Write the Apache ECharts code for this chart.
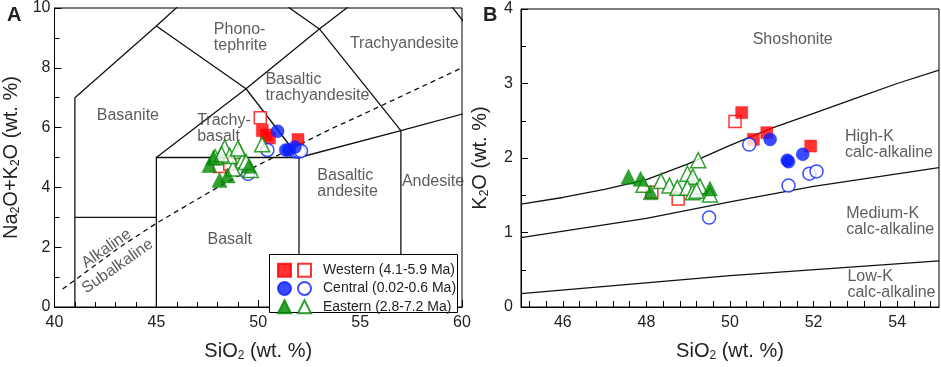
<!DOCTYPE html>
<html>
<head>
<meta charset="utf-8">
<script src="https://cdn.jsdelivr.net/npm/echarts@6/dist/echarts.min.js"></script>
<style>
  html, body { margin: 0; padding: 0; background: #fff; }
  #chart { width: 941px; height: 367px; }
</style>
</head>
<body>
<div id="chart"></div>
<script>
// ---- panel A: TAS diagram ----
const westFilledA = [[50.2, 5.9], [50.4, 5.75], [50.55, 5.65], [51.95, 5.6]]
const westOpenA = [[50.1, 6.33], [48.1, 4.7], [48.6, 4.78]]
const centFilledA = [[50.95, 5.88], [51.35, 5.25], [51.5, 5.25], [51.8, 5.35]]
const centOpenA = [[50.45, 5.25], [51.85, 5.2], [52.0, 5.2], [52.1, 5.22], [49.5, 4.45]]
const eastFilledA = [[47.6, 4.75], [47.8, 5.0], [48.1, 4.25], [48.5, 4.4], [49.55, 4.72]]
const eastOpenA = [[48.35, 5.33], [49.07, 5.22], [47.88, 5.01], [49.23, 4.9], [48.76, 4.63],
  [49.63, 4.58], [50.19, 5.44], [48.6, 5.05], [49.4, 4.85], [48.2, 5.1], [49.0, 5.3]]

// field boundaries (Le Bas et al.)
const tasLines = [
  [[41, 0], [41, 7], [45, 9.4], [48.4, 11.5]],
  [[41, 3], [45, 3]],
  [[45, 0], [45, 5], [52, 5], [52, 0]],
  [[45, 5], [49.4, 7.3], [53, 9.3], [57.6, 11.7]],
  [[45, 9.4], [49.4, 7.3], [52, 5]],
  [[52, 5], [57, 5.9], [63, 7]],
  [[57, 0], [57, 5.9], [53, 9.3], [48.4, 11.5]],
  [[57.6, 11.7], [63, 7]]
]
// Irvine & Baragar alkaline / subalkaline divide
const alkLine = [[40.4, 0.6], [43.2, 2], [45, 2.8], [48, 4], [50, 4.75], [53.7, 6], [55, 6.4], [60, 8]]

const tasNames = [
  { name: 'Basanite', value: [43.6, 6.4] },
  { name: 'Phono-\ntephrite', value: [47.82, 9.0], align: 'left' },
  { name: 'Trachyandesite', value: [54.5, 8.8], align: 'left' },
  { name: 'Basaltic\ntrachyandesite', value: [50.35, 7.33], align: 'left' },
  { name: 'Trachy-\nbasalt', value: [47.0, 5.98], align: 'left' },
  { name: 'Basaltic\nandesite', value: [52.9, 4.13], align: 'left' },
  { name: 'Andesite', value: [57.05, 4.18], align: 'left' },
  { name: 'Basalt', value: [48.6, 2.24] },
  { name: 'Alkaline', value: [42.55, 1.95], rotate: 35 },
  { name: 'Subalkaline', value: [43.1, 1.36], rotate: 35 }
]

// ---- panel B: K2O vs SiO2 ----
const westFilledB = [[50.28, 2.61], [50.56, 2.25], [50.88, 2.34], [51.93, 2.16]]
const westOpenB = [[50.12, 2.49], [48.76, 1.45], [48.13, 1.54]]
const centFilledB = [[50.96, 2.25], [51.37, 1.97], [51.4, 1.95], [51.74, 2.05]]
const centOpenB = [[50.46, 2.18], [51.4, 1.63], [51.9, 1.79], [52.07, 1.82], [49.5, 1.2]]
const eastFilledB = [[47.57, 1.75], [47.86, 1.72], [48.1, 1.54], [49.52, 1.59]]
const eastOpenB = [[47.93, 1.64], [48.35, 1.69], [48.55, 1.63], [48.74, 1.6], [48.98, 1.79],
  [49.11, 1.75], [49.24, 1.97], [48.98, 1.6], [49.11, 1.54], [49.28, 1.62], [49.52, 1.51], [49.2, 1.56]]

const kLines = [
  [[45, 1.38], [46, 1.47], [47, 1.58], [48, 1.71], [49, 1.92], [50, 2.17], [51, 2.4], [52, 2.6], [53, 2.8], [54, 3.0], [55, 3.18]],
  [[45, 0.93], [48, 1.19], [50, 1.41], [52, 1.62], [55, 1.87]],
  [[45, 0.18], [50, 0.42], [55, 0.62]]
]

const kNames = [
  { name: 'Shoshonite', value: [51.5, 3.59] },
  { name: 'High-K\ncalc-alkaline', value: [52.75, 2.18], align: 'left' },
  { name: 'Medium-K\ncalc-alkaline', value: [52.78, 1.15], align: 'left' },
  { name: 'Low-K\ncalc-alkaline', value: [52.81, 0.3], align: 'left' }
]

const xLabelsB = [46, 48, 50, 52, 54]
const xTicksB = [45.2, 45.6, 46, 46.4, 46.8, 47.2, 47.6, 48, 48.4, 48.8, 49.2, 49.6, 50, 50.4, 50.8,
  51.2, 51.6, 52, 52.4, 52.8, 53.2, 53.6, 54, 54.4, 54.8]

const groups = [
  { key: 'Western (4.1-5.9 Ma)', color: '#ff0000', symbol: 'rect', size: 12 },
  { key: 'Central (0.02-0.6 Ma)', color: '#0a1eff', symbol: 'circle', size: 13 },
  { key: 'Eastern (2.8-7.2 Ma)', color: '#008a00', symbol: 'triangle', size: 15 }
]
const dataA = [[westFilledA, westOpenA], [centFilledA, centOpenA], [eastFilledA, eastOpenA]]
const dataB = [[westFilledB, westOpenB], [centFilledB, centOpenB], [eastFilledB, eastOpenB]]

const FONT = '"Liberation Sans", Arial, sans-serif'
const INK = '#222'

function lineSeries(data, idx, dashed) {
  return {
    type: 'line',
    xAxisIndex: idx,
    yAxisIndex: idx,
    data: data,
    symbol: 'none',
    silent: true,
    z: 1,
    lineStyle: { color: '#111', width: 1.3, type: dashed ? [5, 4] : 'solid' }
  }
}

function nameSeries(items, idx) {
  return {
    type: 'scatter',
    xAxisIndex: idx,
    yAxisIndex: idx,
    symbolSize: 1,
    silent: true,
    z: 1,
    itemStyle: { color: 'rgba(0,0,0,0)' },
    label: {
      show: true,
      position: 'inside',
      formatter: '{b}',
      fontFamily: FONT,
      fontSize: 16,
      lineHeight: 16,
      color: '#333'
    },
    data: items.map(it => ({
      name: it.name,
      value: it.value,
      label: { align: it.align || 'center', rotate: it.rotate || 0 }
    }))
  }
}

function dotSeries(g, data, open, idx) {
  return {
    type: 'scatter',
    name: open ? g.key + ' open' : g.key,
    xAxisIndex: idx,
    yAxisIndex: idx,
    symbol: g.symbol,
    symbolSize: g.size,
    z: 5,
    data: data,
    itemStyle: open
      ? { color: '#fff', borderColor: g.color, borderWidth: 1.5 }
      : { color: g.color, borderColor: g.color, borderWidth: 0.5 }
  }
}

const series = []
tasLines.forEach(l => series.push(lineSeries(l, 0, false)))
series.push(lineSeries(alkLine, 0, true))
series.push(nameSeries(tasNames, 0))
kLines.forEach(l => series.push(lineSeries(l, 1, false)))
series.push(nameSeries(kNames, 1))
groups.forEach((g, i) => {
  series.push(dotSeries(g, dataA[i][1], true, 0))
  series.push(dotSeries(g, dataA[i][0], false, 0))
  series.push(dotSeries(g, dataB[i][1], true, 1))
  series.push(dotSeries(g, dataB[i][0], false, 1))
})

const tickLabel = { fontFamily: FONT, fontSize: 16, color: INK }
const nameStyle = {
  fontFamily: FONT,
  fontSize: 20,
  color: INK,
  rich: { s: { fontFamily: FONT, fontSize: 12, color: INK, padding: [9, 0, 0, 0] } }
}
// each axis gets its own style objects
const axisLine = () => ({ show: true, lineStyle: { color: '#000', width: 1 } })
const tickStyle = () => ({ color: '#000', width: 1 })

const chart = echarts.init(document.getElementById('chart'))
chart.setOption({
  animation: false,
  title: [
    { text: 'A', left: 2, top: 0, textStyle: { fontFamily: FONT, fontSize: 20, fontWeight: 'bold', color: INK } },
    { text: 'B', left: 478, top: 0, textStyle: { fontFamily: FONT, fontSize: 20, fontWeight: 'bold', color: INK } }
  ],
  grid: [
    { left: 44, top: 8, width: 418, height: 311, show: true, borderColor: '#000', borderWidth: 1 },
    { left: 521, top: 9, width: 418, height: 310, show: true, borderColor: '#000', borderWidth: 1 }
  ],
  xAxis: [
    {
      type: 'value', gridIndex: 0, min: 40, max: 60, interval: 5,
      name: 'SiO{s|2} (wt. %)', nameLocation: 'middle', nameGap: 34, nameTextStyle: nameStyle,
      axisLine: axisLine(),
      axisTick: { show: true, inside: true, length: 7, lineStyle: tickStyle() },
      minorTick: { show: true, splitNumber: 5, length: 5, lineStyle: tickStyle() },
      axisLabel: Object.assign({ margin: 8 }, tickLabel),
      splitLine: { show: false }
    },
    {
      type: 'value', gridIndex: 1, min: 45, max: 55,
      name: 'SiO{s|2} (wt. %)', nameLocation: 'middle', nameGap: 34, nameTextStyle: nameStyle,
      axisLine: axisLine(),
      axisTick: { show: true, inside: true, length: 6, customValues: xTicksB, lineStyle: tickStyle() },
      axisLabel: Object.assign({ margin: 8, customValues: xLabelsB }, tickLabel),
      splitLine: { show: false }
    }
  ],
  yAxis: [
    {
      type: 'value', gridIndex: 0, min: 0, max: 10, interval: 2,
      name: 'Na{s|2}O+K{s|2}O (wt. %)', nameLocation: 'middle', nameGap: 33, nameTextStyle: nameStyle,
      axisLine: axisLine(),
      axisTick: { show: true, inside: true, length: 7, lineStyle: tickStyle() },
      minorTick: { show: true, splitNumber: 2, length: 5, lineStyle: tickStyle() },
      axisLabel: Object.assign({ margin: 4 }, tickLabel),
      splitLine: { show: false }
    },
    {
      type: 'value', gridIndex: 1, min: 0, max: 4, interval: 1,
      name: 'K{s|2}O (wt. %)', nameLocation: 'middle', nameGap: 30, nameTextStyle: nameStyle,
      axisLine: axisLine(),
      axisTick: { show: true, inside: true, length: 7, lineStyle: tickStyle() },
      minorTick: { show: true, splitNumber: 2, length: 5, lineStyle: tickStyle() },
      axisLabel: Object.assign({ margin: 8 }, tickLabel),
      splitLine: { show: false }
    }
  ],
  graphic: [
    {
      type: 'rect', left: 269, top: 254, z: 10,
      shape: { width: 188, height: 58 },
      style: { fill: '#fff', stroke: '#000', lineWidth: 1 }
    }
  ],
  legend: [
    {
      data: groups.map(g => g.key),
      orient: 'vertical', left: 272, top: 257, z: 20,
      itemWidth: 13, itemHeight: 13, itemGap: 2,
      selectedMode: false,
      formatter: () => ' ',
      textStyle: { fontFamily: FONT, fontSize: 14, lineHeight: 16.3 }
    },
    {
      data: groups.map(g => g.key + ' open'),
      orient: 'vertical', left: 292, top: 257, z: 20,
      itemWidth: 13, itemHeight: 13, itemGap: 2,
      selectedMode: false,
      formatter: name => name.replace(' open', ''),
      textStyle: { fontFamily: FONT, fontSize: 14, lineHeight: 16.3, color: INK, padding: [0, 0, 0, 7] }
    }
  ],
  series: series
})
</script>
</body>
</html>
